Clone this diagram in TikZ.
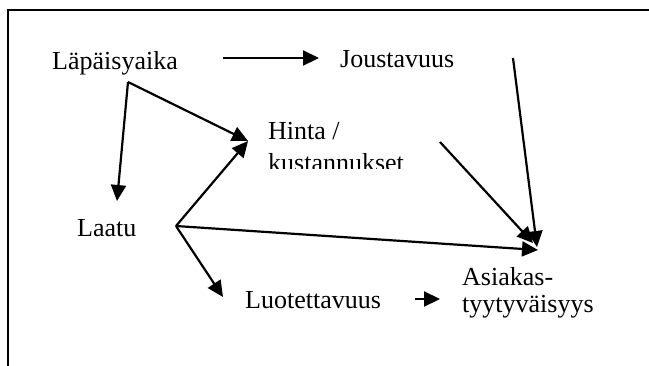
\documentclass[tikz,border=0pt]{standalone}
\usepackage{fontspec}
\setmainfont{Liberation Serif}
\usetikzlibrary{arrows.meta}
\begin{document}
\begin{tikzpicture}[x=1pt,y=-1pt,
  lbl/.style={anchor=base west,inner sep=0pt,font=\fontsize{26}{30}\selectfont},
  conn/.style={line width=2.2pt,-{Triangle[length=16pt,width=15pt]}},
  edge/.style={line width=1.8pt,line cap=rect}]
\useasboundingbox (0,0) rectangle (649,365);
\fill[white] (0,0) rectangle (649,365);
% frame: only the top and left sides fall inside the page
\coordinate (fc) at (8,10);
\coordinate (fb) at (8,365);
\coordinate (fr) at (649,10);
\draw[edge] (fc) -- (fb);
\draw[edge] (fc) -- (fr);

% labels
\node[lbl] (lap) at (52,69) {Läpäisyaika};
\node[lbl] (jou) at (340,67) {Joustavuus};
\node[lbl] (hin) at (268,139) {Hinta /};
\begin{scope}
  \clip (0,0) rectangle (649,168);
  \node[lbl] (kus) at (268,171) {kustannukset};
\end{scope}
\node[lbl] (laa) at (77,236) {Laatu};
\node[lbl] (luo) at (245,308) {Luotettavuus};
\node[lbl] (asi) at (462,285) {Asiakas-};
\node[lbl] (tyy) at (462,312) {tyytyväisyys};

% connector end points
\coordinate (a1s) at (223,58);
\coordinate (a1e) at (319,58);
\coordinate (v1) at (128,82);
\coordinate (laaT) at (117,201);
\coordinate (hinT) at (248,141);
\coordinate (v2) at (176,226);
\coordinate (luoT) at (223,297);
\coordinate (asiT1) at (538,250);
\coordinate (hinS) at (440,142);
\coordinate (asiT2) at (533,243);
\coordinate (jouS) at (513,58);
\coordinate (asiT3) at (537,247);
\coordinate (luoS) at (415,299);
\coordinate (asiL) at (440,299);

% connectors
\draw[conn] (a1s) -- (a1e);
\draw[conn] (v1) -- (laaT);
\draw[conn] (v1) -- (hinT);
\draw[conn] (v2) -- (hinT);
\draw[conn] (v2) -- (luoT);
\draw[conn] (v2) -- (asiT1);
\draw[conn] (hinS) -- (asiT2);
\draw[conn] (jouS) -- (asiT3);
\draw[conn] (luoS) -- (asiL);
\end{tikzpicture}
\end{document}
